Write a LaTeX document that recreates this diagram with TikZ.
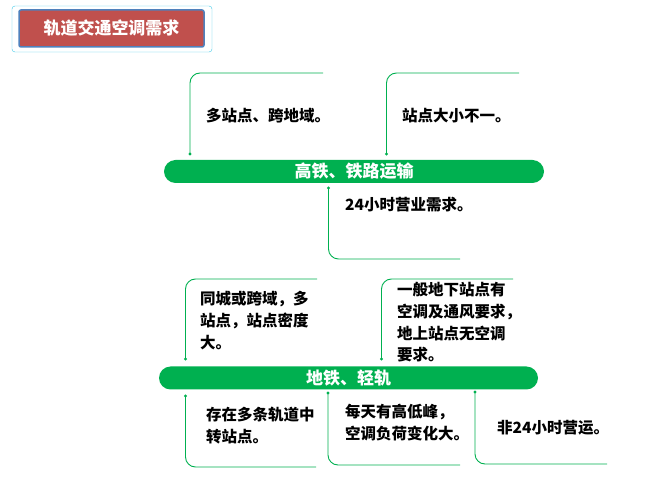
\documentclass[tikz,border=0pt]{standalone}
\usepackage{fontspec}
\newfontfamily\cjk{Noto Sans CJK SC}
\definecolor{barGreen}{HTML}{00B050}
\definecolor{titleRed}{HTML}{C0504D}
\definecolor{titleBlue}{HTML}{4F81BD}
\definecolor{frameCyan}{HTML}{3CC8E6}
\tikzset{
  bar/.style={fill=barGreen, text=white, rounded corners=11.5, minimum height=23,
    inner sep=0, font=\cjk\bfseries\fontsize{17}{18}\selectfont},
  branch/.style={barGreen, line width=0.9, rounded corners=10},
  note/.style={inner sep=0, align=left, font=\cjk\bfseries\fontsize{15.5}{21.8}\selectfont},
}
\begin{document}
\begin{tikzpicture}[x=1pt,y=-1pt]
    \useasboundingbox (0,0) rectangle (662,494);

    % Título
    \node (frame) [draw=frameCyan, rounded corners=3, minimum width=200, minimum height=46] at (112,29) {};
    \node (title) [fill=titleRed, draw=titleBlue, line width=1.5, rounded corners=2,
      minimum width=185, minimum height=37, text=white, font=\cjk\bfseries\fontsize{17}{18}\selectfont]
      at (111.5,28.5) {轨道交通空调需求};

    % Barras
    \node (gt) [bar, minimum width=380] at (354,171.5) {高铁、铁路运输};
    \node (dt) [bar, minimum width=379] at (348.5,378) {地铁、轻轨};

    % Puntos de las ramas
    \coordinate (gtA) at (190,154);
    \coordinate (gtB) at (386.5,154);
    \coordinate (gtC) at (328.5,188);
    \coordinate (dtA) at (185.5,359);
    \coordinate (dtB) at (381.5,359);
    \coordinate (dtC) at (185.5,396);
    \coordinate (dtD) at (328,393);
    \coordinate (dtE) at (475,392);

    % Extremos de las ramas
    \coordinate (gtAend) at (323,73);
    \coordinate (gtBend) at (519,73);
    \coordinate (gtCend) at (460,259);
    \coordinate (dtAend) at (317,279);
    \coordinate (dtBend) at (513,279);
    \coordinate (dtCend) at (316,467);
    \coordinate (dtDend) at (460,465);
    \coordinate (dtEend) at (607,464);

    % Ramas
    \foreach \p in {gtA,gtB,gtC,dtA,dtB,dtC,dtD,dtE} {
        \draw[branch] (\p) |- (\p end);
        \fill[barGreen] (\p) circle (1.6);
    }

    % Textos
    \node (tA) [note, anchor=west] at (206,116) {多站点、跨地域。};
    \node (tB) [note, anchor=west] at (402,116) {站点大小不一。};
    \node (tC) [note, anchor=west] at (345,205) {24小时营业需求。};
    \node (tD) [note, anchor=north west] at (200,291) {同城或跨域，多\\站点，站点密度\\大。};
    \node (tE) [note, anchor=north west] at (397,282) {一般地下站点有\\空调及通风要求，\\地上站点无空调\\要求。};
    \node (tF) [note, anchor=north west] at (206,407) {存在多条轨道中\\转站点。};
    \node (tG) [note, anchor=north west] at (345,404) {每天有高低峰，\\空调负荷变化大。};
    \node (tH) [note, anchor=west] at (497,428) {非24小时营运。};
\end{tikzpicture}
\end{document}
